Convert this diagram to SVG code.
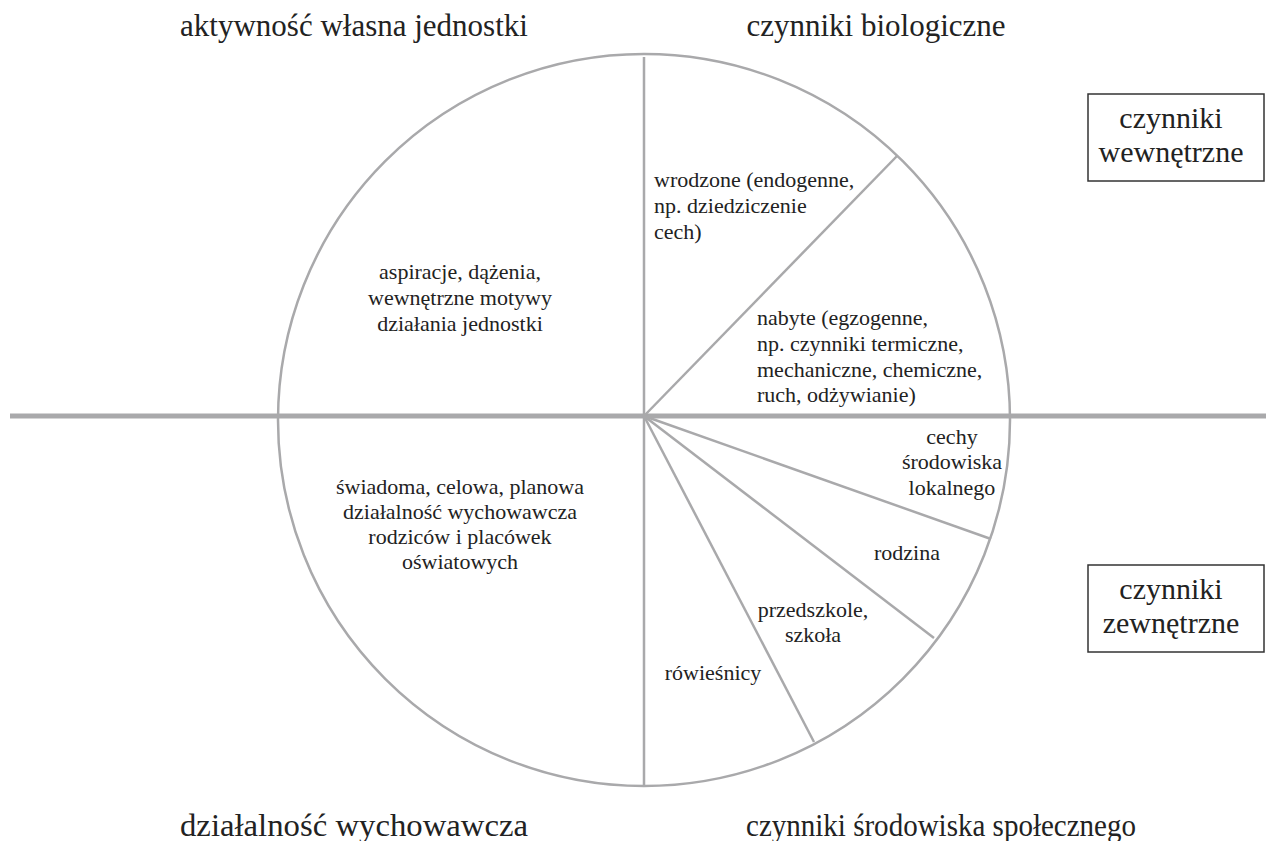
<svg xmlns="http://www.w3.org/2000/svg" width="1266" height="841" viewBox="0 0 1266 841">
<style>
.ln{stroke:#a9a9ab;fill:none;stroke-width:2.5}
.title{font-family:"Liberation Serif",serif;font-size:31px;fill:#222;text-anchor:middle}
.bt{font-family:"Liberation Serif",serif;font-size:30px;fill:#222;text-anchor:middle}
.t{font-family:"Liberation Serif",serif;font-size:22px;fill:#222}
.c{text-anchor:middle}
.box{fill:#fff;stroke:#333;stroke-width:1.5}
</style>
<rect width="1266" height="841" fill="#fff"/>
<g id="connectors">
<circle class="ln" cx="644" cy="420" r="366"/>
<line class="ln" x1="10" y1="416" x2="1266" y2="416" style="stroke-width:5"/>
<line class="ln" x1="644" y1="57" x2="644" y2="785"/>
<line class="ln" x1="644" y1="416" x2="897" y2="156"/>
<line class="ln" x1="644" y1="416" x2="991" y2="539"/>
<line class="ln" x1="644" y1="416" x2="934" y2="638"/>
<line class="ln" x1="644" y1="416" x2="814" y2="742"/>
</g>
<g id="titles">
<text class="title" x="354" y="36">aktywność własna jednostki</text>
<text class="title" x="876" y="36">czynniki biologiczne</text>
<text class="title" x="354" y="836" textLength="348" lengthAdjust="spacingAndGlyphs">działalność wychowawcza</text>
<text class="title" x="941" y="836" textLength="390" lengthAdjust="spacingAndGlyphs">czynniki środowiska społecznego</text>
</g>
<g id="box-wewnetrzne">
<rect class="box" x="1088" y="94" width="176" height="87"/>
<text class="bt" x="1171" y="128">czynniki</text>
<text class="bt" x="1171" y="162">wewnętrzne</text>
</g>
<g id="box-zewnetrzne">
<rect class="box" x="1088" y="565" width="176" height="87"/>
<text class="bt" x="1171" y="599">czynniki</text>
<text class="bt" x="1171" y="633">zewnętrzne</text>
</g>
<g id="seg-aspiracje">
<text class="t c" x="460" y="279">aspiracje, dążenia,</text>
<text class="t c" x="460" y="305">wewnętrzne motywy</text>
<text class="t c" x="460" y="331">działania jednostki</text>
</g>
<g id="seg-wrodzone">
<text class="t" x="654" y="187">wrodzone (endogenne,</text>
<text class="t" x="654" y="213">np. dziedziczenie</text>
<text class="t" x="654" y="239">cech)</text>
</g>
<g id="seg-nabyte">
<text class="t" x="757" y="325">nabyte (egzogenne,</text>
<text class="t" x="757" y="351">np. czynniki termiczne,</text>
<text class="t" x="757" y="377">mechaniczne, chemiczne,</text>
<text class="t" x="757" y="402">ruch, odżywianie)</text>
</g>
<g id="seg-swiadoma">
<text class="t c" x="460" y="494">świadoma, celowa, planowa</text>
<text class="t c" x="460" y="519">działalność wychowawcza</text>
<text class="t c" x="460" y="544">rodziców i placówek</text>
<text class="t c" x="460" y="569">oświatowych</text>
</g>
<g id="seg-cechy">
<text class="t c" x="952" y="444">cechy</text>
<text class="t c" x="952" y="469">środowiska</text>
<text class="t c" x="952" y="495">lokalnego</text>
</g>
<g id="seg-rodzina">
<text class="t c" x="907" y="560">rodzina</text>
</g>
<g id="seg-szkola">
<text class="t c" x="813" y="617">przedszkole,</text>
<text class="t c" x="813" y="642">szkoła</text>
</g>
<g id="seg-rowiesnicy">
<text class="t c" x="713" y="680">rówieśnicy</text>
</g>
</svg>
